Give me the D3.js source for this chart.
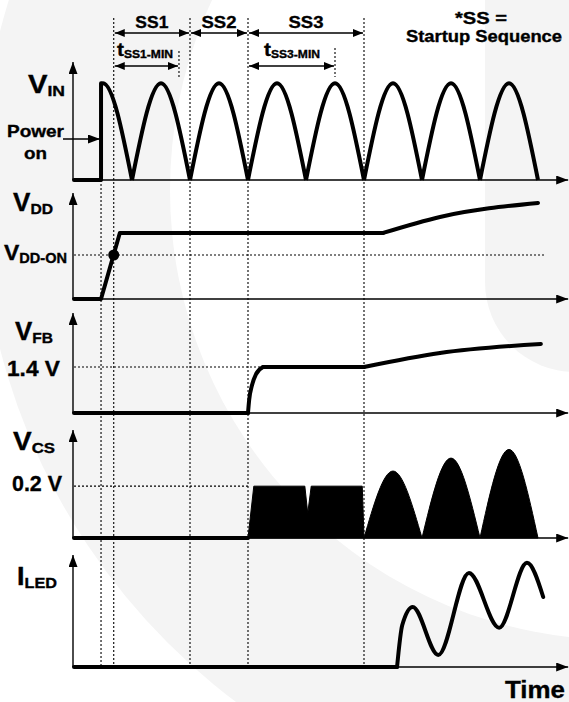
<!DOCTYPE html>
<html><head><meta charset="utf-8">
<script src="https://cdn.jsdelivr.net/npm/d3@7"></script>
<style>
html,body{margin:0;padding:0;background:#fff;}
svg{display:block;}
text{font-family:"Liberation Sans",Arial,sans-serif;font-weight:bold;fill:#000;stroke:#000;stroke-width:0.35px;}
</style>
</head><body>
<svg id="c" width="569" height="702"></svg>
<script>
// ---- data (time unit = one VIN half-cycle; levels normalised to each panel's axis height) ----
const tPowerOn = 0.466, tVddOn = 0.685, tSS1Min = 1.81, tSS3Min = 4.5;
const phases = [
  {label: "SS1", t0: 0.685, t1: 2},
  {label: "SS2", t0: 2, t1: 3},
  {label: "SS3", t0: 3, t1: 5}
];
const minTimes = [
  {sub: "SS1-MIN", t0: 0.685, t1: 1.81},
  {sub: "SS3-MIN", t0: 3, t1: 4.5}
];
const markerTimes = [0.685, 2, 3, 5];
const vinArches = [0, 1, 2, 3, 4, 5, 6, 7];
const vinPeak = 0.82;
const vddSteps = [[0, 0], [0.466, 0], [0.79, 0.623], [5.33, 0.623]];
const vddRise = [[5.33, 0.623], [6.31, 0.774], [8.0, 0.906]];
const vddOnLevel = 0.415;
const vfbFlat = [[0, 0], [3, 0]];
const vfbSoft = [[3, 0], [3.02, 0.13], [3.07, 0.28], [3.14, 0.39], [3.26, 0.46]];
const vfbHold = [[3.26, 0.46], [5, 0.46]];
const vfbRise = [[5, 0.46], [6.31, 0.60], [8.05, 0.69]];
const vfbLevel = 0.46;
const vcsFlat = [[0, 0], [3, 0]];
const vcsBlock = [[3, 0], [3.1, 0.48], [3.98, 0.48], [4.03, 0.23], [4.09, 0.48], [4.97, 0.48], [5, 0]];
const vcsArches = [[5, 6, 0.62], [6, 7, 0.74], [7, 8, 0.82]];
const vcsLevel = 0.48;
const iledFlat = [[0, 0], [5.57, 0]];
const iledWave = [[5.57, 0], [5.66, 0.375], [5.84, 0.536], [6.28, 0.107], [6.81, 0.84], [7.33, 0.35], [7.81, 0.93], [8.09, 0.625]];

// ---- layout ----
const W = 569, H = 702;
const x = d3.scaleLinear().domain([0, 8.5]).range([74, 567]);
const tAxisEnd = 8.52;
const panels = [
  {key: "vin", base: 180, top: 62},
  {key: "vdd", base: 299, top: 193},
  {key: "vfb", base: 413, top: 313},
  {key: "vcs", base: 538, top: 430},
  {key: "iled", base: 667, top: 555}
];
const y = {};
panels.forEach(p => y[p.key] = d3.scaleLinear().domain([0, 1]).range([p.base, p.top]));

const svg = d3.select("#c");
const defs = svg.append("defs");
function marker(id, L, w) {
  defs.append("marker").attr("id", id)
    .attr("viewBox", `0 0 ${L} ${w}`).attr("refX", L).attr("refY", w / 2)
    .attr("markerWidth", L).attr("markerHeight", w)
    .attr("markerUnits", "userSpaceOnUse").attr("orient", "auto-start-reverse")
    .append("path").attr("d", `M0,0L${L},${w / 2}L0,${w}Z`).attr("fill", "#000");
}
marker("ah", 12, 9);
marker("as", 10, 8);

// faint watermark
svg.append("rect").attr("width", W).attr("height", H).attr("fill", "#fff");
svg.append("circle").attr("cx", 620).attr("cy", 190).attr("r", 640).attr("fill", "#f4f4f4");
svg.append("circle").attr("cx", 620).attr("cy", 190).attr("r", 450).attr("fill", "#fff");
svg.append("path").attr("d", "M485,0L485,282A90,90 0 0 0 575,372L575,0Z").attr("fill", "#f4f4f4");

// dotted guides
const dot = "2,2";
const g = svg.append("g");
markerTimes.forEach(t => g.append("line").attr("x1", x(t)).attr("x2", x(t)).attr("y1", 18).attr("y2", y.iled(0))
  .attr("stroke", "#000").attr("stroke-width", 1.1).attr("stroke-dasharray", dot));
g.append("line").attr("x1", x(tPowerOn)).attr("x2", x(tPowerOn)).attr("y1", y.vin(0)).attr("y2", y.iled(0))
  .attr("stroke", "#000").attr("stroke-width", 1.1).attr("stroke-dasharray", dot);
[[tSS1Min, 51], [tSS3Min, 48]].forEach(([t, y0]) => g.append("line").attr("x1", x(t)).attr("x2", x(t)).attr("y1", y0).attr("y2", 77)
  .attr("stroke", "#000").attr("stroke-width", 1.1).attr("stroke-dasharray", dot));
// horizontal reference levels
[[y.vdd(vddOnLevel), 8.12], [y.vfb(vfbLevel), 3.26], [y.vcs(vcsLevel), 3.0]].forEach(([yy, t1]) =>
  g.append("line").attr("x1", x(0)).attr("x2", x(t1)).attr("y1", yy).attr("y2", yy)
    .attr("stroke", "#000").attr("stroke-width", 1.1).attr("stroke-dasharray", dot));

// axes
panels.forEach(p => {
  svg.append("line").attr("x1", x(0) - 1).attr("x2", x(0) - 1).attr("y1", p.base).attr("y2", p.top)
    .attr("stroke", "#000").attr("stroke-width", 1.4).attr("marker-end", "url(#ah)");
  svg.append("line").attr("x1", x(0) - 1).attr("x2", x(tAxisEnd)).attr("y1", p.base).attr("y2", p.base)
    .attr("stroke", "#000").attr("stroke-width", 1.4).attr("marker-end", "url(#ah)");
});

// phase arrows
phases.forEach(d => svg.append("line").attr("x1", x(d.t0) + 1).attr("x2", x(d.t1) - 1).attr("y1", 33).attr("y2", 33)
  .attr("stroke", "#000").attr("stroke-width", 1.4).attr("marker-start", "url(#as)").attr("marker-end", "url(#as)"));
minTimes.forEach(d => svg.append("line").attr("x1", x(d.t0) + 1).attr("x2", x(d.t1) - 1).attr("y1", 66).attr("y2", 66)
  .attr("stroke", "#000").attr("stroke-width", 1.4).attr("marker-start", "url(#as)").attr("marker-end", "url(#as)"));

// traces
const thick = sel => sel.attr("fill", "none").attr("stroke", "#000").attr("stroke-width", 4)
  .attr("stroke-linejoin", "round").attr("stroke-linecap", "round");
function trace(key, pts, curve) {
  const ln = d3.line().x(d => x(d[0])).y(d => y[key](d[1])).curve(curve || d3.curveLinear);
  return svg.append("path").attr("d", ln(pts)).call(thick);
}
// VIN
defs.append("clipPath").attr("id", "pon").append("rect")
  .attr("x", x(tPowerOn)).attr("y", 0).attr("width", W).attr("height", H);
trace("vin", [[0, 0], [tPowerOn, 0], [tPowerOn, vinPeak]]);
vinArches.forEach(k => {
  const p = trace("vin", [[k, 0], [k + 0.5, vinPeak], [k + 1, 0]], d3.curveNatural).attr("stroke-linecap", "butt");
  if (k === 0) p.attr("clip-path", "url(#pon)");
});
// VDD
trace("vdd", vddSteps);
trace("vdd", vddRise, d3.curveMonotoneX);
svg.append("circle").attr("cx", x(tVddOn)).attr("cy", y.vdd(vddOnLevel)).attr("r", 5.5).attr("fill", "#000");
// VFB
trace("vfb", vfbFlat);
trace("vfb", vfbSoft, d3.curveMonotoneX);
trace("vfb", vfbHold);
trace("vfb", vfbRise, d3.curveMonotoneX);
// VCS
trace("vcs", vcsFlat);
const lin = d3.line().x(d => x(d[0])).y(d => y.vcs(d[1]));
svg.append("path").attr("d", lin(vcsBlock) + "Z").attr("fill", "#000").attr("stroke", "#000").attr("stroke-width", 1);
const nat = d3.line().x(d => x(d[0])).y(d => y.vcs(d[1])).curve(d3.curveNatural);
vcsArches.forEach(([a, b, pk]) => svg.append("path").attr("d", nat([[a, 0], [(a + b) / 2, pk], [b, 0]]) + "Z")
  .attr("fill", "#000").attr("stroke", "#000").attr("stroke-width", 1));
// ILED
trace("iled", iledFlat);
trace("iled", iledWave, d3.curveMonotoneX);

// power-on arrow
svg.append("line").attr("x1", 63).attr("x2", x(tPowerOn) - 1).attr("y1", 139).attr("y2", 139)
  .attr("stroke", "#000").attr("stroke-width", 1.4).attr("marker-end", "url(#ah)");

// text
function label(x0, y0, parts, width, anchor) {
  const t = svg.append("text").attr("x", x0).attr("y", y0).attr("text-anchor", anchor || "start");
  parts.forEach(p => t.append("tspan").attr("font-size", p.s).attr("dy", p.dy || 0).text(p.t));
  if (width) t.attr("textLength", width).attr("lengthAdjust", "spacingAndGlyphs");
  return t;
}
const phaseW = [33, 35, 35];
phases.forEach((d, i) => label((x(d.t0) + x(d.t1)) / 2 - phaseW[i] / 2, 28, [{t: d.label, s: 17}], phaseW[i]));
const minX = [117, 264];
minTimes.forEach((d, i) => label(minX[i], 56, [{t: "t", s: 19}, {t: d.sub, s: 11, dy: 2}], 56));
label(455, 24, [{t: "*SS =", s: 16}], 52);
label(406, 42, [{t: "Startup Sequence", s: 16}], 156);
label(28, 93, [{t: "V", s: 25}, {t: "IN", s: 15, dy: 3}], 37);
label(7, 137, [{t: "Power", s: 17}], 57);
label(24, 159, [{t: "on", s: 17}], 23);
label(13, 211, [{t: "V", s: 25}, {t: "DD", s: 15, dy: 3}], 40);
label(4, 260, [{t: "V", s: 22}, {t: "DD-ON", s: 14, dy: 3}], 63);
label(15, 340, [{t: "V", s: 25}, {t: "FB", s: 15, dy: 3}], 38);
label(7, 376, [{t: "1.4 V", s: 22}], 53);
label(13, 450, [{t: "V", s: 25}, {t: "CS", s: 15, dy: 3}], 42);
label(12, 491, [{t: "0.2 V", s: 22}], 50);
label(17, 585, [{t: "I", s: 25}, {t: "LED", s: 15, dy: 3}], 40);
label(565, 698, [{t: "Time", s: 24}], 60, "end");
</script>
</body></html>
